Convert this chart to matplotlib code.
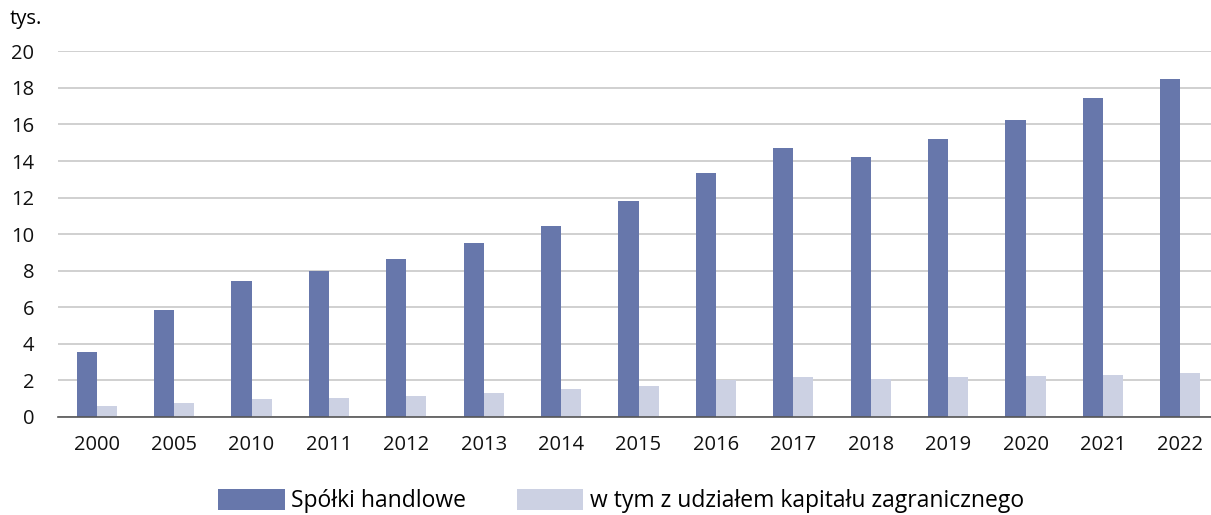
import numpy as np
import matplotlib
matplotlib.use('Agg')
import matplotlib.pyplot as plt

# dane (tys.)
years = ['2000', '2005', '2010', '2011', '2012', '2013', '2014', '2015',
         '2016', '2017', '2018', '2019', '2020', '2021', '2022']
spolki = [3.56, 5.84, 7.44, 7.99, 8.65, 9.5, 10.45, 11.8,
          13.35, 14.7, 14.21, 15.18, 16.24, 17.42, 18.5]
zagraniczne = [0.58, 0.75, 0.98, 1.06, 1.17, 1.31, 1.51, 1.70,
               2.01, 2.2, 2.06, 2.17, 2.23, 2.3, 2.39]

DARK = '#6777ab'
LIGHT = '#ccd1e3'

plt.rcParams['font.family'] = ['Open Sans', 'DejaVu Sans']

W, H = 1211, 515
fig = plt.figure(figsize=(W / 100, H / 100), dpi=100)
ax = fig.add_axes([58 / W, (H - 417) / H, (W - 58) / W, (417 - 51.3) / H])

x = np.arange(len(years))
bw = 0.2585
ax.bar(x - bw / 2, spolki, bw, color=DARK, label='Spółki handlowe', zorder=3)
ax.bar(x + bw / 2, zagraniczne, bw, color=LIGHT,
       label='w tym z udziałem kapitału zagranicznego', zorder=3)

ax.set_ylim(0, 20)
ax.set_xlim(-0.5, 14.5 - 8 / 77.36)
ax.set_yticks(range(0, 21, 2))
ax.set_xticks(x)
ax.set_xticklabels(years)

ax.grid(axis='y', color='#c8c8c8', linewidth=1.2, zorder=0)
for s in ['top', 'right', 'left']:
    ax.spines[s].set_visible(False)
ax.spines['bottom'].set_color('#555555')
ax.spines['bottom'].set_linewidth(1.2)
ax.spines['bottom'].set_zorder(4)
ax.tick_params(axis='both', length=0, labelsize=14.5, colors='#111111')
ax.tick_params(axis='y', pad=17)
ax.tick_params(axis='x', pad=13)

fig.text(10 / W, 1 - 19 / H, 'tys.', fontsize=14.5, va='center', ha='left')

fig.legend(loc='center', bbox_to_anchor=(0.513, 0.027), ncol=2, frameon=False,
           fontsize=16.5, handlelength=2.9, handleheight=1.05,
           columnspacing=2.2, handletextpad=0.3)

fig.savefig('out.png', dpi=100)
